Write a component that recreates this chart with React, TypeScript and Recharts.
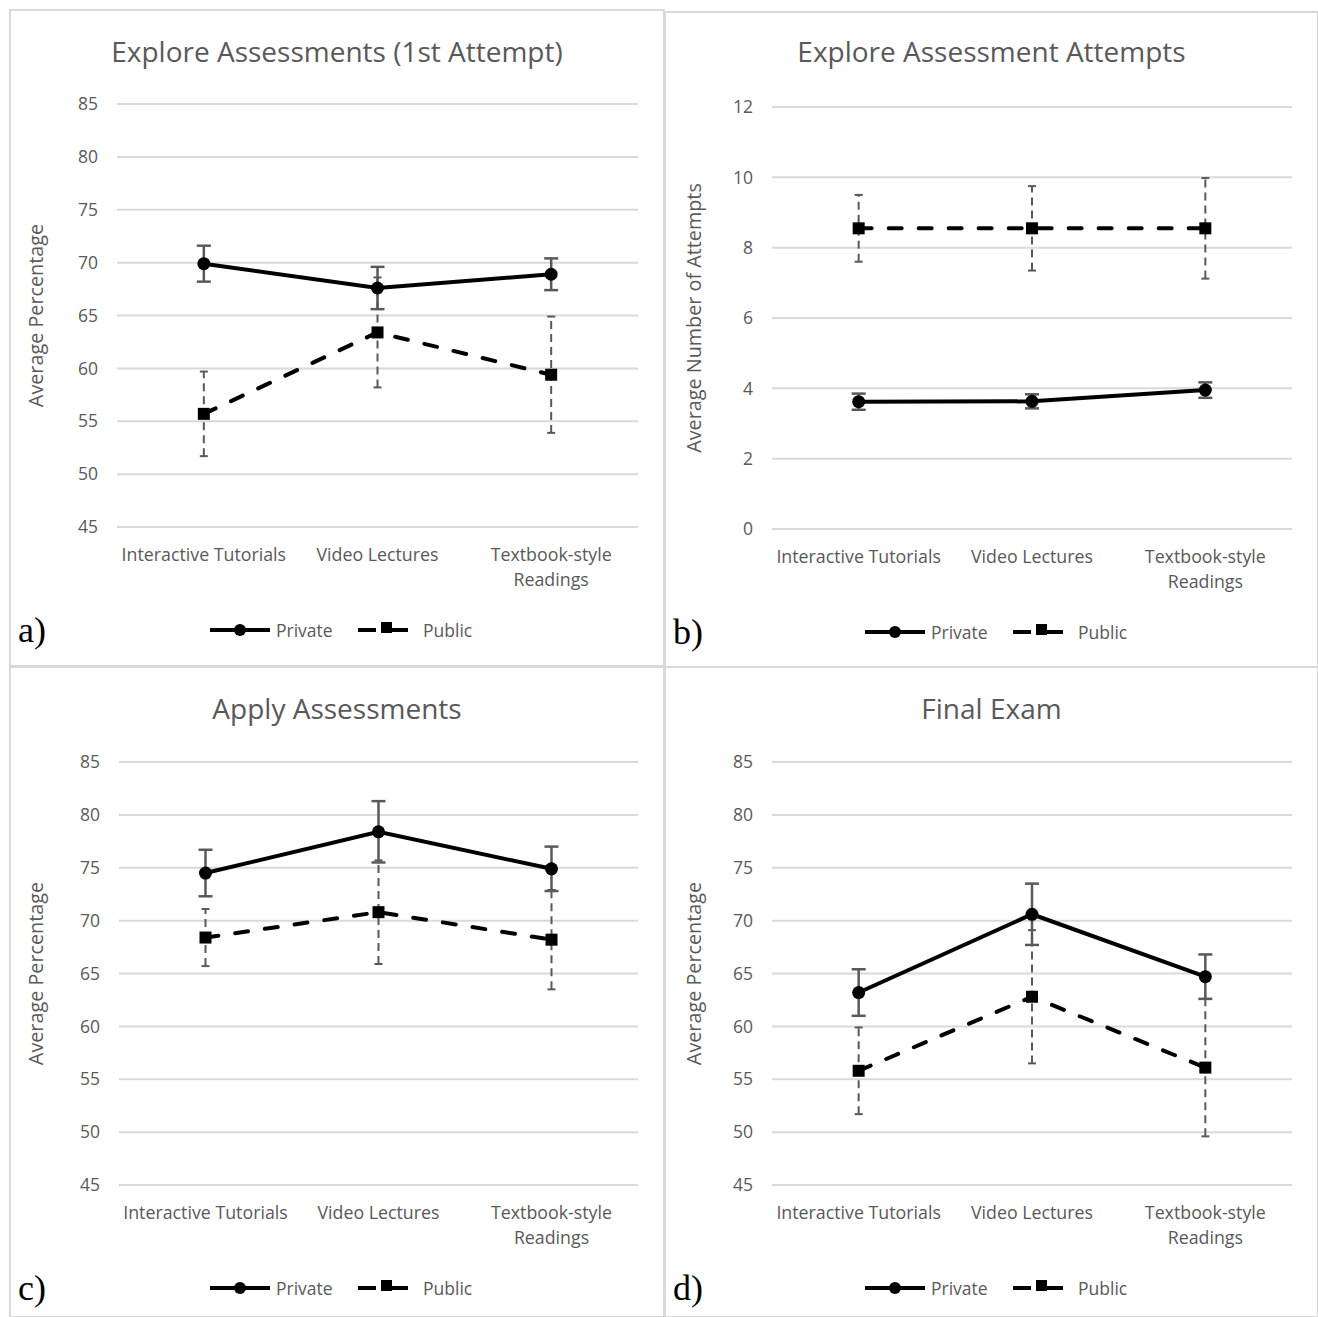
import React from 'react';
import { LineChart, Line, XAxis, YAxis, CartesianGrid, ErrorBar } from 'recharts';

// categories on the x axis (same in all four panels)
const categories = ['Interactive Tutorials', 'Video Lectures', 'Textbook-style Readings'];
const seriesNames = ['Private', 'Public'];

// a) Explore Assessments (1st Attempt)
const explorePrivate = [69.9, 67.6, 68.9];
const explorePrivateErr = [1.7, 2.0, 1.5];
const explorePublic = [55.7, 63.4, 59.4];
const explorePublicErr = [4.0, 5.2, 5.5];

// b) Explore Assessment Attempts
const attemptsPrivate = [3.62, 3.63, 3.95];
const attemptsPrivateErr = [0.23, 0.2, 0.22];
const attemptsPublic = [8.55, 8.55, 8.55];
const attemptsPublicErr = [0.95, 1.2, 1.43];

// c) Apply Assessments
const applyPrivate = [74.5, 78.4, 74.9];
const applyPrivateErr = [2.2, 2.9, 2.1];
const applyPublic = [68.4, 70.8, 68.2];
const applyPublicErr = [2.7, 4.9, 4.7];

// d) Final Exam
const finalPrivate = [63.2, 70.6, 64.7];
const finalPrivateErr = [2.2, 2.9, 2.1];
const finalPublic = [55.8, 62.8, 56.1];
const finalPublicErr = [4.1, 6.3, 6.5];

const percentTicks = [45, 50, 55, 60, 65, 70, 75, 80, 85];
const attemptTicks = [0, 2, 4, 6, 8, 10, 12];

const FONT = '"Open Sans", Lato, sans-serif';
const TEXT = '#595959';
const GRID = '#d9d9d9';

const rows = (priv: number[], privErr: number[], pub: number[], pubErr: number[]) =>
  categories.map((category, i) => ({
    category,
    priv: priv[i],
    privErr: privErr[i],
    pub: pub[i],
    pubErr: pubErr[i],
  }));

const panels = [
  {
    letter: 'a)',
    title: 'Explore Assessments (1st Attempt)',
    yLabel: 'Average Percentage',
    data: rows(explorePrivate, explorePrivateErr, explorePublic, explorePublicErr),
    ticks: percentTicks,
    box: { x: 10, y: 10, w: 654, h: 656 },
    plot: { x1: 117, x2: 638, y1: 104, y2: 527 },
    titleY: 62,
    labelX: 36,
  },
  {
    letter: 'b)',
    title: 'Explore Assessment Attempts',
    yLabel: 'Average Number of Attempts',
    data: rows(attemptsPrivate, attemptsPrivateErr, attemptsPublic, attemptsPublicErr),
    ticks: attemptTicks,
    box: { x: 665, y: 12, w: 653, h: 655 },
    plot: { x1: 772, x2: 1292, y1: 107, y2: 529 },
    titleY: 62,
    labelX: 694,
  },
  {
    letter: 'c)',
    title: 'Apply Assessments',
    yLabel: 'Average Percentage',
    data: rows(applyPrivate, applyPrivateErr, applyPublic, applyPublicErr),
    ticks: percentTicks,
    box: { x: 10, y: 667, w: 654, h: 650 },
    plot: { x1: 119, x2: 638, y1: 762, y2: 1185 },
    titleY: 719,
    labelX: 36,
  },
  {
    letter: 'd)',
    title: 'Final Exam',
    yLabel: 'Average Percentage',
    data: rows(finalPrivate, finalPrivateErr, finalPublic, finalPublicErr),
    ticks: percentTicks,
    box: { x: 665, y: 667, w: 653, h: 650 },
    plot: { x1: 772, x2: 1292, y1: 762, y2: 1185 },
    titleY: 719,
    labelX: 694,
  },
];

function wrapLabel(s: string, max = 21) {
  const words = s.split(' ');
  const lines: string[] = [];
  let cur = '';
  words.forEach((w) => {
    const next = cur ? cur + ' ' + w : w;
    if (next.length > max && cur) {
      lines.push(cur);
      cur = w;
    } else {
      cur = next;
    }
  });
  if (cur) lines.push(cur);
  return lines;
}

const CategoryTick = (props: any) => {
  const { x, y, payload } = props;
  const lines = wrapLabel(String(payload.value));
  return (
    <text x={x} y={y + 34} textAnchor="middle" fill={TEXT} fontSize={17.8} fontFamily={FONT}>
      {lines.map((l, i) => (
        <tspan key={i} x={x} dy={i === 0 ? 0 : 25}>
          {l}
        </tspan>
      ))}
    </text>
  );
};

const CircleDot = (props: any) => (
  <circle key={'c' + props.index} cx={props.cx} cy={props.cy} r={6.5} fill="#000" />
);

const SquareDot = (props: any) => (
  <rect key={'s' + props.index} x={props.cx - 6} y={props.cy - 6} width={12} height={12} fill="#000" />
);

function Panel({ p }: { p: any }) {
  const { box, plot } = p;
  const xAxisH = 70;
  const plotW = plot.x2 - plot.x1;
  const margin = {
    top: plot.y1 - box.y,
    right: box.x + box.w - plot.x2,
    bottom: box.y + box.h - plot.y2 - xAxisH,
    left: 0,
  };
  return (
    <div style={{ position: 'absolute', left: box.x, top: box.y }}>
      <LineChart width={box.w} height={box.h} data={p.data} margin={margin}>
        <CartesianGrid vertical={false} stroke={GRID} strokeWidth={2} />
        <XAxis
          dataKey="category"
          axisLine={false}
          tickLine={false}
          tickSize={0}
          tickMargin={0}
          height={xAxisH}
          interval={0}
          padding={{ left: plotW / 6, right: plotW / 6 }}
          tick={<CategoryTick />}
        />
        <YAxis
          domain={[p.ticks[0], p.ticks[p.ticks.length - 1]]}
          ticks={p.ticks}
          interval={0}
          axisLine={false}
          tickLine={false}
          tickSize={0}
          tickMargin={19}
          width={plot.x1 - box.x}
          tick={{ fill: TEXT, fontSize: 17.5, fontFamily: FONT }}
          label={{
            value: p.yLabel,
            angle: -90,
            position: 'insideLeft',
            offset: p.labelX - box.x,
            style: { textAnchor: 'middle', fill: TEXT, fontSize: 19.8, fontFamily: FONT },
          }}
        />
        <Line
          dataKey="pub"
          name={seriesNames[1]}
          stroke="#000"
          strokeWidth={4}
          strokeDasharray="13 17"
          strokeLinecap="round"
          dot={SquareDot}
          activeDot={false}
          isAnimationActive={false}
        >
          <ErrorBar dataKey="pubErr" direction="y" width={4} stroke={TEXT} strokeWidth={2} strokeDasharray="8 5" />
        </Line>
        <Line
          dataKey="priv"
          name={seriesNames[0]}
          stroke="#000"
          strokeWidth={4}
          dot={CircleDot}
          activeDot={false}
          isAnimationActive={false}
        >
          <ErrorBar dataKey="privErr" direction="y" width={7} stroke={TEXT} strokeWidth={2.5} />
        </Line>
      </LineChart>
    </div>
  );
}

function Overlay() {
  return (
    <svg
      width={1318}
      height={1317}
      style={{ position: 'absolute', left: 0, top: 0, pointerEvents: 'none' }}
    >
      {panels.map((p, i) => {
        const { box, plot } = p;
        const lx = box.x + 200;
        const ly = plot.y2 + 103;
        return (
          <g key={i}>
            <rect x={box.x} y={box.y} width={box.w} height={box.h} fill="none" stroke={GRID} strokeWidth={2} />
            <text
              x={box.x + box.w / 2}
              y={p.titleY}
              textAnchor="middle"
              fill={TEXT}
              fontSize={28}
              fontFamily={FONT}
            >
              {p.title}
            </text>
            <text x={box.x + 8} y={ly + 12} fill="#000" fontSize={36} fontFamily='"Liberation Serif", serif'>
              {p.letter}
            </text>
            <line x1={lx} x2={lx + 60} y1={ly} y2={ly} stroke="#000" strokeWidth={4} />
            <circle cx={lx + 30} cy={ly} r={6} fill="#000" />
            <text x={lx + 66} y={ly + 7} fill={TEXT} fontSize={17.5} fontFamily={FONT}>
              {seriesNames[0]}
            </text>
            <line x1={lx + 148} x2={lx + 166} y1={ly} y2={ly} stroke="#000" strokeWidth={4} />
            <rect x={lx + 171} y={ly - 8} width={11} height={11} fill="#000" />
            <line x1={lx + 182} x2={lx + 198} y1={ly} y2={ly} stroke="#000" strokeWidth={4} />
            <text x={lx + 213} y={ly + 7} fill={TEXT} fontSize={17.5} fontFamily={FONT}>
              {seriesNames[1]}
            </text>
          </g>
        );
      })}
    </svg>
  );
}

export default function App() {
  return (
    <div style={{ position: 'absolute', left: 0, top: 0, width: 1318, height: 1317, background: '#fff' }}>
      {panels.map((p, i) => (
        <Panel key={i} p={p} />
      ))}
      <Overlay />
    </div>
  );
}
